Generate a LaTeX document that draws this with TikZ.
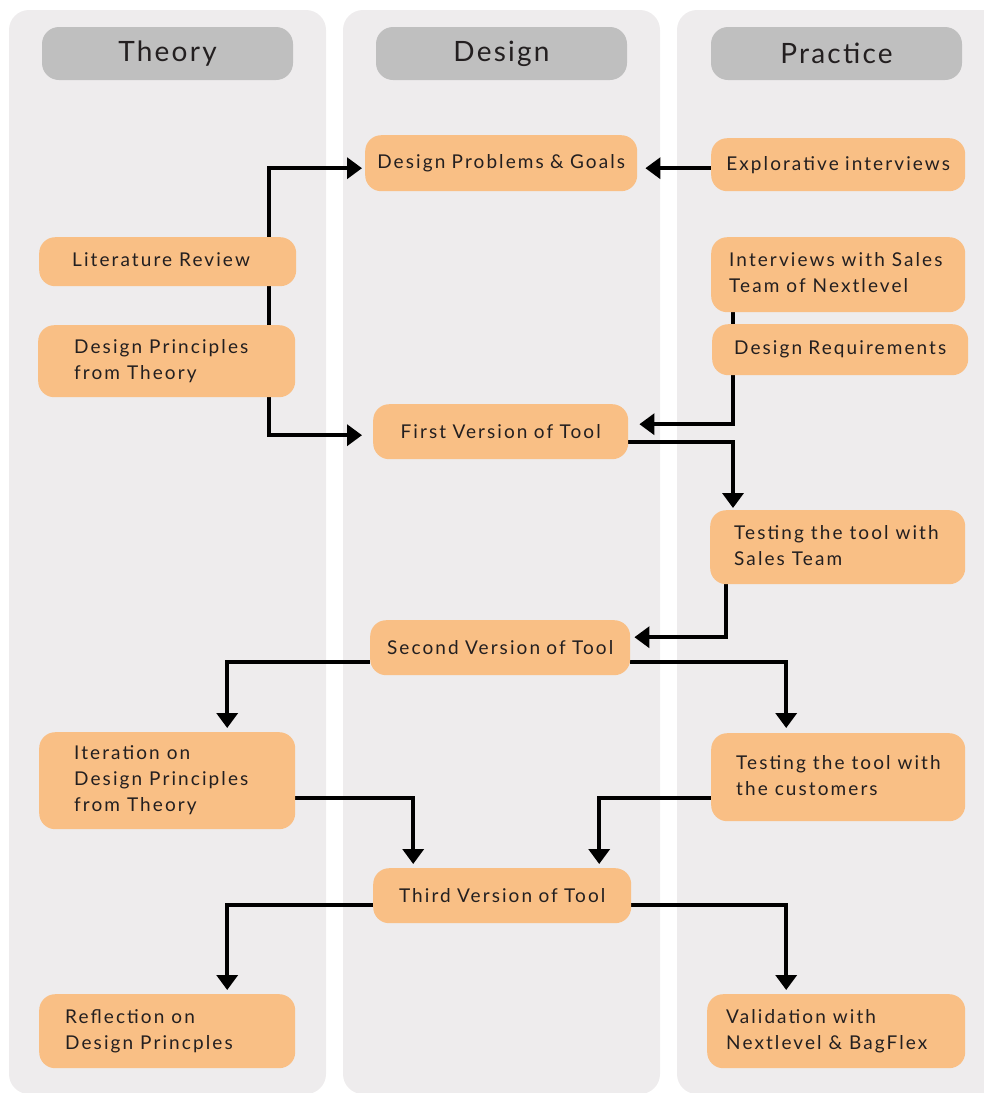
\documentclass[tikz,border=0pt]{standalone}
\usepackage{fontspec}
\setmainfont{Lato}[LetterSpace=11]
\newfontfamily\headfont{Lato}[LetterSpace=8]
\usetikzlibrary{arrows.meta}

\definecolor{colbg}{HTML}{EEECED}
\definecolor{pillc}{HTML}{BFBFBF}
\definecolor{boxc}{HTML}{F9BF85}
\definecolor{inkc}{HTML}{231F20}

% box of width #1 holding left-aligned lines #3, indented by #2
\newcommand{\indented}[3]{\makebox[#1pt][l]{\hspace*{#2pt}\begin{tabular}{@{}l@{}}#3\end{tabular}}}

\pgfdeclarelayer{bg}
\pgfdeclarelayer{wires}
\pgfsetlayers{bg,wires,main}

\tikzset{
  column/.style={fill=colbg, rounded corners=20pt},
  pill/.style={fill=pillc, rounded corners=17pt, minimum width=251pt,
    minimum height=53pt, inner sep=0pt, font=\headfont\fontsize{28}{32}\selectfont,
    text=inkc},
  box/.style={fill=boxc, rounded corners=16pt, inner xsep=0pt, inner ysep=0pt,
    anchor=north west, text=inkc, font=\fontsize{19}{26}\selectfont},
  line/.style={draw=black, line width=3.5pt},
  arr/.style={line, -{Triangle[width=21pt,length=15pt]}},
}

\begin{document}
\begin{tikzpicture}[x=1pt,y=-1pt]
\useasboundingbox (0,0) rectangle (984,1093);

% three swimlanes
\begin{pgfonlayer}{bg}
  \fill[column] (9,10) rectangle (326,1094);
  \fill[column] (343,10) rectangle (660,1094);
  \fill[column] (677,10) rectangle (1010,1094);
\end{pgfonlayer}

% lane headers
\node[pill] (hT) at (167.5,53.5) {Theory};
\node[pill] (hD) at (501.5,53.5) {Design};
\node[pill] (hP) at (836.5,53.5) {Practice};

% Design lane
\node[box, text width=272pt, minimum height=56pt, align=center] (dpg) at (365,135) {Design Problems \& Goals};
\node[box, text width=255pt, minimum height=55pt, align=center] (v1) at (373,404) {First Version of Tool};
\node[box, text width=260pt, minimum height=55pt, align=center] (v2) at (370,620) {Second Version of Tool};
\node[box, text width=258pt, minimum height=55pt, align=center] (v3) at (373,868) {Third Version of Tool};

% Theory lane
\node[box, minimum height=49pt] (lit) at (39,237) {\indented{257}{33}{Literature Review}};
\node[box, minimum height=72pt] (dpt) at (38,325) {\indented{257}{36}{Design Principles\\from Theory}};
\node[box, minimum height=97pt] (iter) at (39,732) {\indented{256}{35}{Iteration on\\Design Principles\\from Theory}};
\node[box, minimum height=74pt] (refl) at (39,994) {\indented{256}{26}{Reflection on\\Design Princples}};

% Practice lane
\node[box, text width=254pt, minimum height=53pt, align=center] (expl) at (711,138) {Explorative interviews};
\node[box, minimum height=75pt] (isal) at (711,237) {\indented{254}{18}{Interviews with Sales\\Team of Nextlevel}};
\node[box, text width=256pt, minimum height=51pt, align=center] (dreq) at (712,324) {Design Requirements};
\node[box, minimum height=74pt] (tsal) at (710,510) {\indented{255}{24}{Testing the tool with\\Sales Team}};
\node[box, minimum height=88pt] (tcus) at (711,733) {\indented{254}{25}{Testing the tool with\\the customers}};
\node[box, minimum height=74pt] (val) at (707,994) {\indented{258}{19}{Validation with\\Nextlevel \& BagFlex}};

% vertical rails of the theory and practice lanes
\coordinate (tx) at (269,0);
\coordinate (px) at (733,0);

\begin{pgfonlayer}{wires}
  % theory feeds the design
  \draw[arr, shorten >=3pt] (lit.north -| tx) |- ([yshift=-5pt]dpg.west);
  \draw[line] (lit.south -| tx) -- (dpt.north -| tx);
  \draw[arr, shorten >=11pt] (dpt.south -| tx) |- ([yshift=-3.5pt]v1.west);
  % practice feeds the design
  \draw[arr, shorten >=8pt] ([yshift=-3.5pt]expl.west) -- ([yshift=-3.5pt]expl.west -| dpg.east);
  \draw[line] (isal.south -| px) -- (dreq.north -| px);
  \draw[arr, shorten >=11pt] (dreq.south -| px) |- ([yshift=7.5pt]v1.east);
  % iterations
  \draw[arr, shorten >=2pt] ([yshift=-10.5pt]v1.east) -| (tsal.north -| px);
  \draw[arr, shorten >=4pt] ([xshift=16pt]tsal.south west) |- ([yshift=10.5pt]v2.east);
  \draw[arr, shorten >=4pt] ([yshift=-14.5pt]v2.west) -| ([xshift=60pt]iter.north);
  \draw[arr, shorten >=5pt] ([yshift=-14.5pt]v2.east) -| ([xshift=-52pt]tcus.north);
  \draw[arr, shorten >=4pt] ([yshift=-17.5pt]iter.east) -| ([xshift=-89pt]v3.north);
  \draw[arr, shorten >=4pt] ([yshift=-21pt]tcus.west) -| ([xshift=97pt]v3.north);
  \draw[arr, shorten >=4pt] ([yshift=-9.5pt]v3.west) -| ([xshift=60pt]refl.north);
  \draw[arr, shorten >=4pt] ([yshift=-9.5pt]v3.east) -| ([xshift=-50pt]val.north);
\end{pgfonlayer}
\end{tikzpicture}
\end{document}
